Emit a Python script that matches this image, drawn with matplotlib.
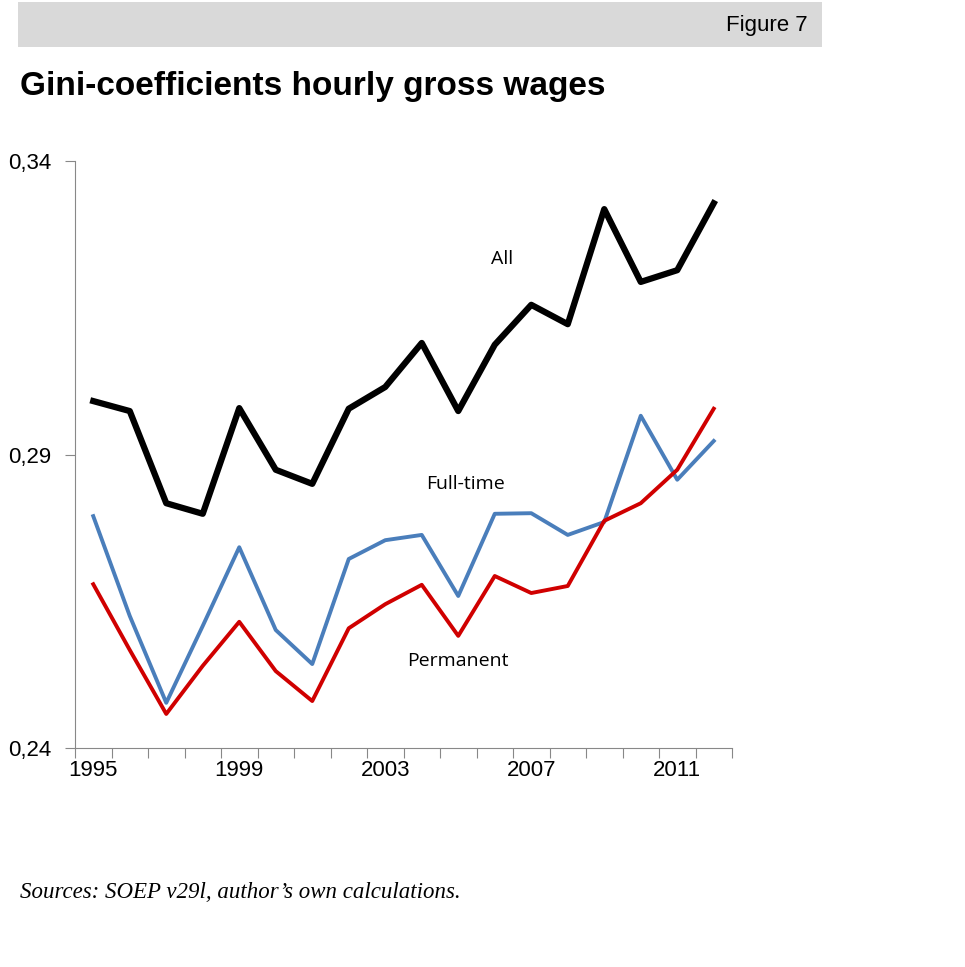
import matplotlib
matplotlib.use("Agg")
import matplotlib.pyplot as plt
from matplotlib.patches import Rectangle

years = list(range(1995, 2013))
all_vals = [0.2991, 0.2974, 0.2817, 0.2799, 0.2979, 0.2874, 0.2850, 0.2978, 0.3015,
            0.3090, 0.2974, 0.3087, 0.3155, 0.3122, 0.3318, 0.3194, 0.3214, 0.3328]
fulltime = [0.2795, 0.2625, 0.2477, 0.2608, 0.2742, 0.2601, 0.2543, 0.2722, 0.2754,
            0.2763, 0.2659, 0.2799, 0.2800, 0.2763, 0.2785, 0.2966, 0.2857, 0.2923]
permanent = [0.2679, 0.2567, 0.2458, 0.2540, 0.2615, 0.2531, 0.2480, 0.2604, 0.2645,
             0.2678, 0.2591, 0.2693, 0.2664, 0.2676, 0.2787, 0.2817, 0.2874, 0.2978]
yticks = [0.24, 0.29, 0.34]
ytick_labels = ["0,24", "0,29", "0,34"]
xtick_years = [1995, 1999, 2003, 2007, 2011]

W, H = 965, 967
fig = plt.figure(figsize=(W/100, H/100), dpi=100)
fig.patches.append(Rectangle((18/W, 1-47/H), (822-18)/W, 45/H, transform=fig.transFigure,
                             facecolor="#d9d9d9", edgecolor="none"))
fig.text(808/W, 1-25/H, "Figure 7", ha="right", va="center", fontsize=16, family="Liberation Sans")
fig.text(20/W, 1-87/H, "Gini-coefficients hourly gross wages", ha="left", va="center",
         fontsize=24, fontweight="bold", family="Liberation Sans")
fig.text(20/W, 1-893/H, "Sources: SOEP v29l, author’s own calculations.", ha="left", va="center",
         fontsize=16.5, style="italic", family="Liberation Serif")

ax = fig.add_axes([75/W, 1-748/H, (732-75)/W, (748-161)/H])
ax.plot(years, all_vals, color="black", lw=4.5)
ax.plot(years, fulltime, color="#4a7ebb", lw=2.8)
ax.plot(years, permanent, color="#d00000", lw=2.8)
ax.set_xlim(1994.5, 2012.5)
ax.set_ylim(0.24, 0.34)
ax.set_yticks(yticks)
ax.set_yticklabels(ytick_labels, fontsize=16, family="Liberation Sans")
ax.set_xticks([y + 0.5 for y in range(1994, 2013)], minor=False)
ax.set_xticklabels([])
ax.set_xticks(xtick_years, minor=True)
ax.set_xticklabels([str(y) for y in xtick_years], minor=True, fontsize=16, family="Liberation Sans")
ax.tick_params(axis="x", which="minor", length=0, pad=9)
ax.tick_params(axis="x", which="major", length=7, color="#888888")
ax.tick_params(axis="y", length=7, color="#888888", pad=10)
for s in ["top", "right"]:
    ax.spines[s].set_visible(False)
for s in ["left", "bottom"]:
    ax.spines[s].set_color("#888888")
ax.text(2006.2, 0.3233, "All", fontsize=14, family="Open Sans", ha="center", va="center")
ax.text(2005.2, 0.2850, "Full-time", fontsize=14, family="Open Sans", ha="center", va="center")
ax.text(2005.0, 0.2548, "Permanent", fontsize=14, family="Open Sans", ha="center", va="center")

fig.savefig("out.png", dpi=100)
